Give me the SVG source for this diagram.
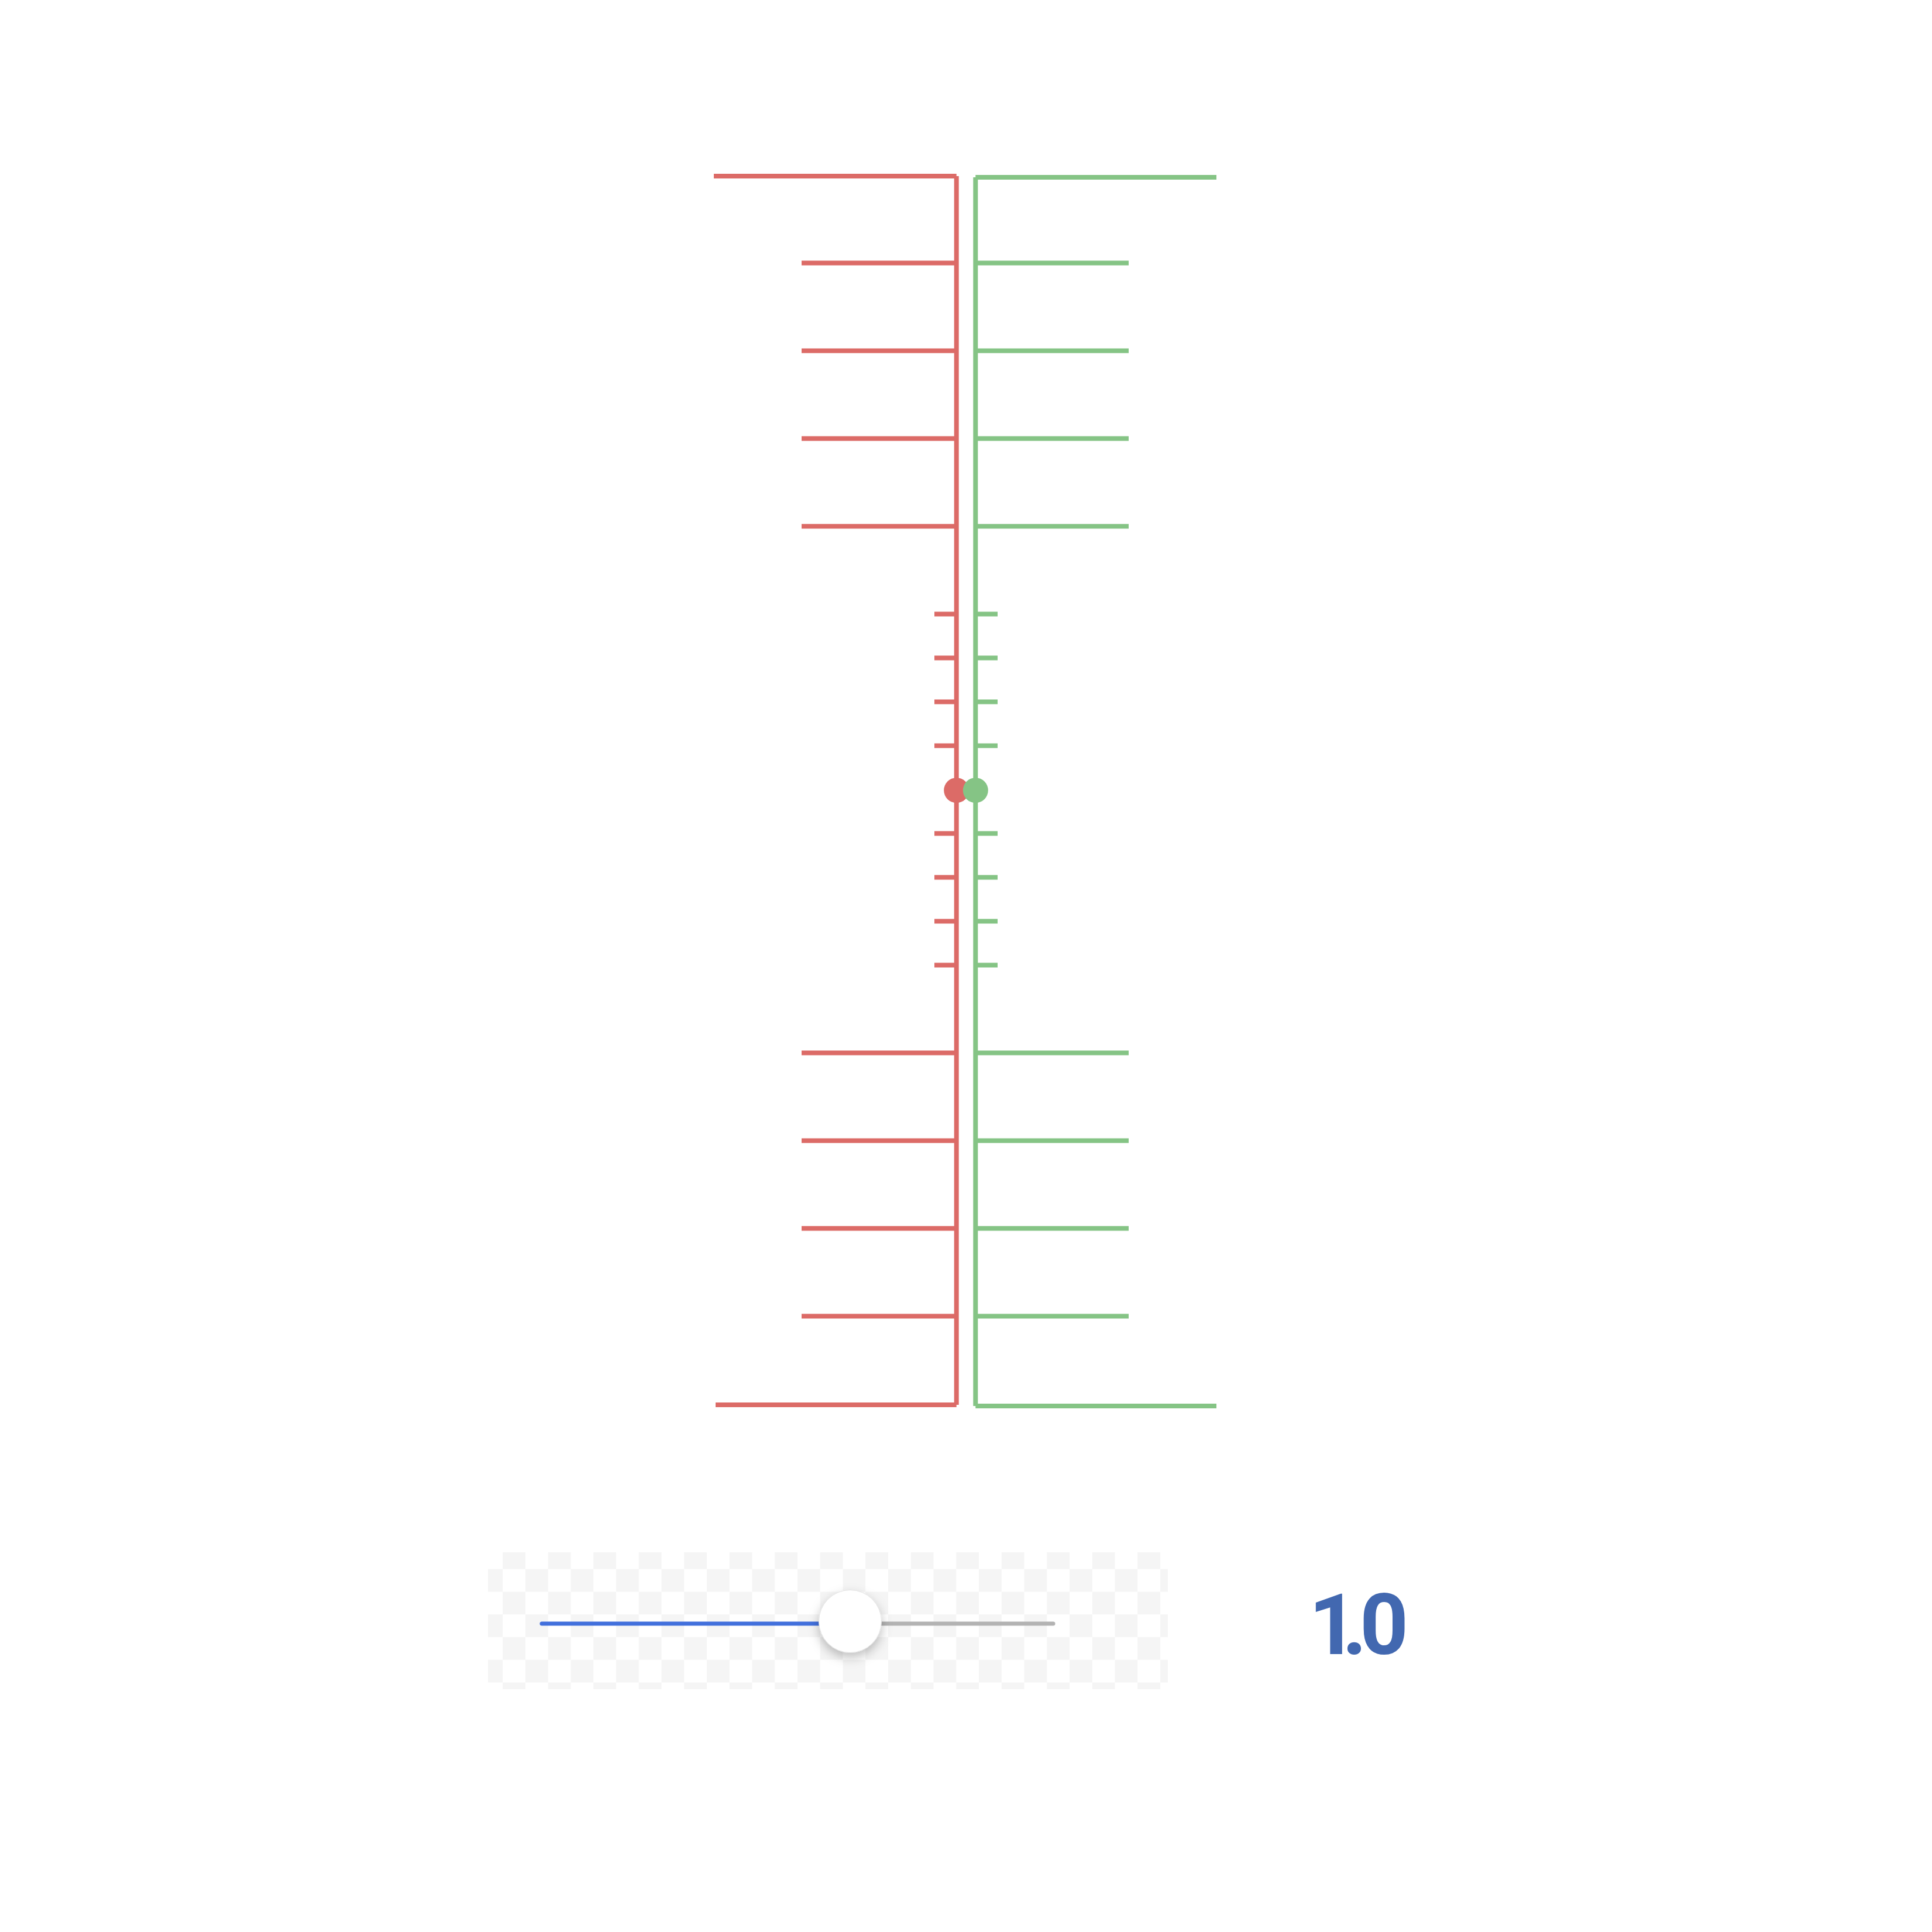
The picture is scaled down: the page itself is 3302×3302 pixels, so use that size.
<svg xmlns="http://www.w3.org/2000/svg" width="3302" height="3302" viewBox="0 0 3302 3302">
<style>
.r{stroke:#dc6b67;stroke-width:8;fill:none}
.g{stroke:#85c485;stroke-width:8;fill:none}
</style>
<defs>
<pattern id="chk" patternUnits="userSpaceOnUse" x="820.5" y="2643" width="77.5" height="77.5">
<rect x="0" y="0" width="77.5" height="77.5" fill="#ffffff"/>
<rect x="38.75" y="0" width="38.75" height="38.75" fill="#f5f5f5"/>
<rect x="0" y="38.75" width="38.75" height="38.75" fill="#f5f5f5"/>
</pattern>
<filter id="sh" x="-50%" y="-50%" width="200%" height="200%">
<feDropShadow dx="0" dy="8" stdDeviation="9" flood-color="#000" flood-opacity="0.25"/>
</filter>
</defs>
<rect width="3302" height="3302" fill="#ffffff"/>
<g id="red-scale">
<path class="r" d="M1220 301H1634.7M1634.7 301V2401M1223 2401H1634.7"/>
<path class="r" d="M1370 449.5H1634.7M1370 599.5H1634.7M1370 749.5H1634.7M1370 899.5H1634.7M1370 1799.5H1634.7M1370 1949.5H1634.7M1370 2099.5H1634.7M1370 2249.5H1634.7"/>
<path class="r" d="M1597 1049.5H1634.7M1597 1124.5H1634.7M1597 1199.5H1634.7M1597 1274.5H1634.7M1597 1424.5H1634.7M1597 1499.5H1634.7M1597 1574.5H1634.7M1597 1649.5H1634.7"/>
<circle cx="1634.7" cy="1350.7" r="21.5" fill="#dc6b67"/>
</g>
<g id="green-scale">
<path class="g" d="M1667.3 303H2079M1667.3 303V2403M1667.3 2403H2079"/>
<path class="g" d="M1667.3 449.5H1929M1667.3 599.5H1929M1667.3 749.5H1929M1667.3 899.5H1929M1667.3 1799.5H1929M1667.3 1949.5H1929M1667.3 2099.5H1929M1667.3 2249.5H1929"/>
<path class="g" d="M1667.3 1049.5H1705M1667.3 1124.5H1705M1667.3 1199.5H1705M1667.3 1274.5H1705M1667.3 1424.5H1705M1667.3 1499.5H1705M1667.3 1574.5H1705M1667.3 1649.5H1705"/>
<circle cx="1667.3" cy="1350.7" r="21.5" fill="#85c485"/>
</g>
<g id="slider">
<rect x="834" y="2653" width="1162" height="234" fill="url(#chk)"/>
<line x1="1453" y1="2775" x2="1800" y2="2775" stroke="#b3b3b3" stroke-width="7" stroke-linecap="round"/>
<line x1="926" y1="2775" x2="1453" y2="2775" stroke="#4270dc" stroke-width="7" stroke-linecap="round"/>
<circle cx="1453" cy="2771" r="53.5" fill="#ffffff" stroke="#e2e2e2" stroke-width="1" filter="url(#sh)"/>
</g>
<g id="value">
<text font-family="Roboto, sans-serif" font-weight="700" font-size="145" fill="#4268b0" x="2237 2294 2324" y="2827">1.0</text>
</g>
</svg>
